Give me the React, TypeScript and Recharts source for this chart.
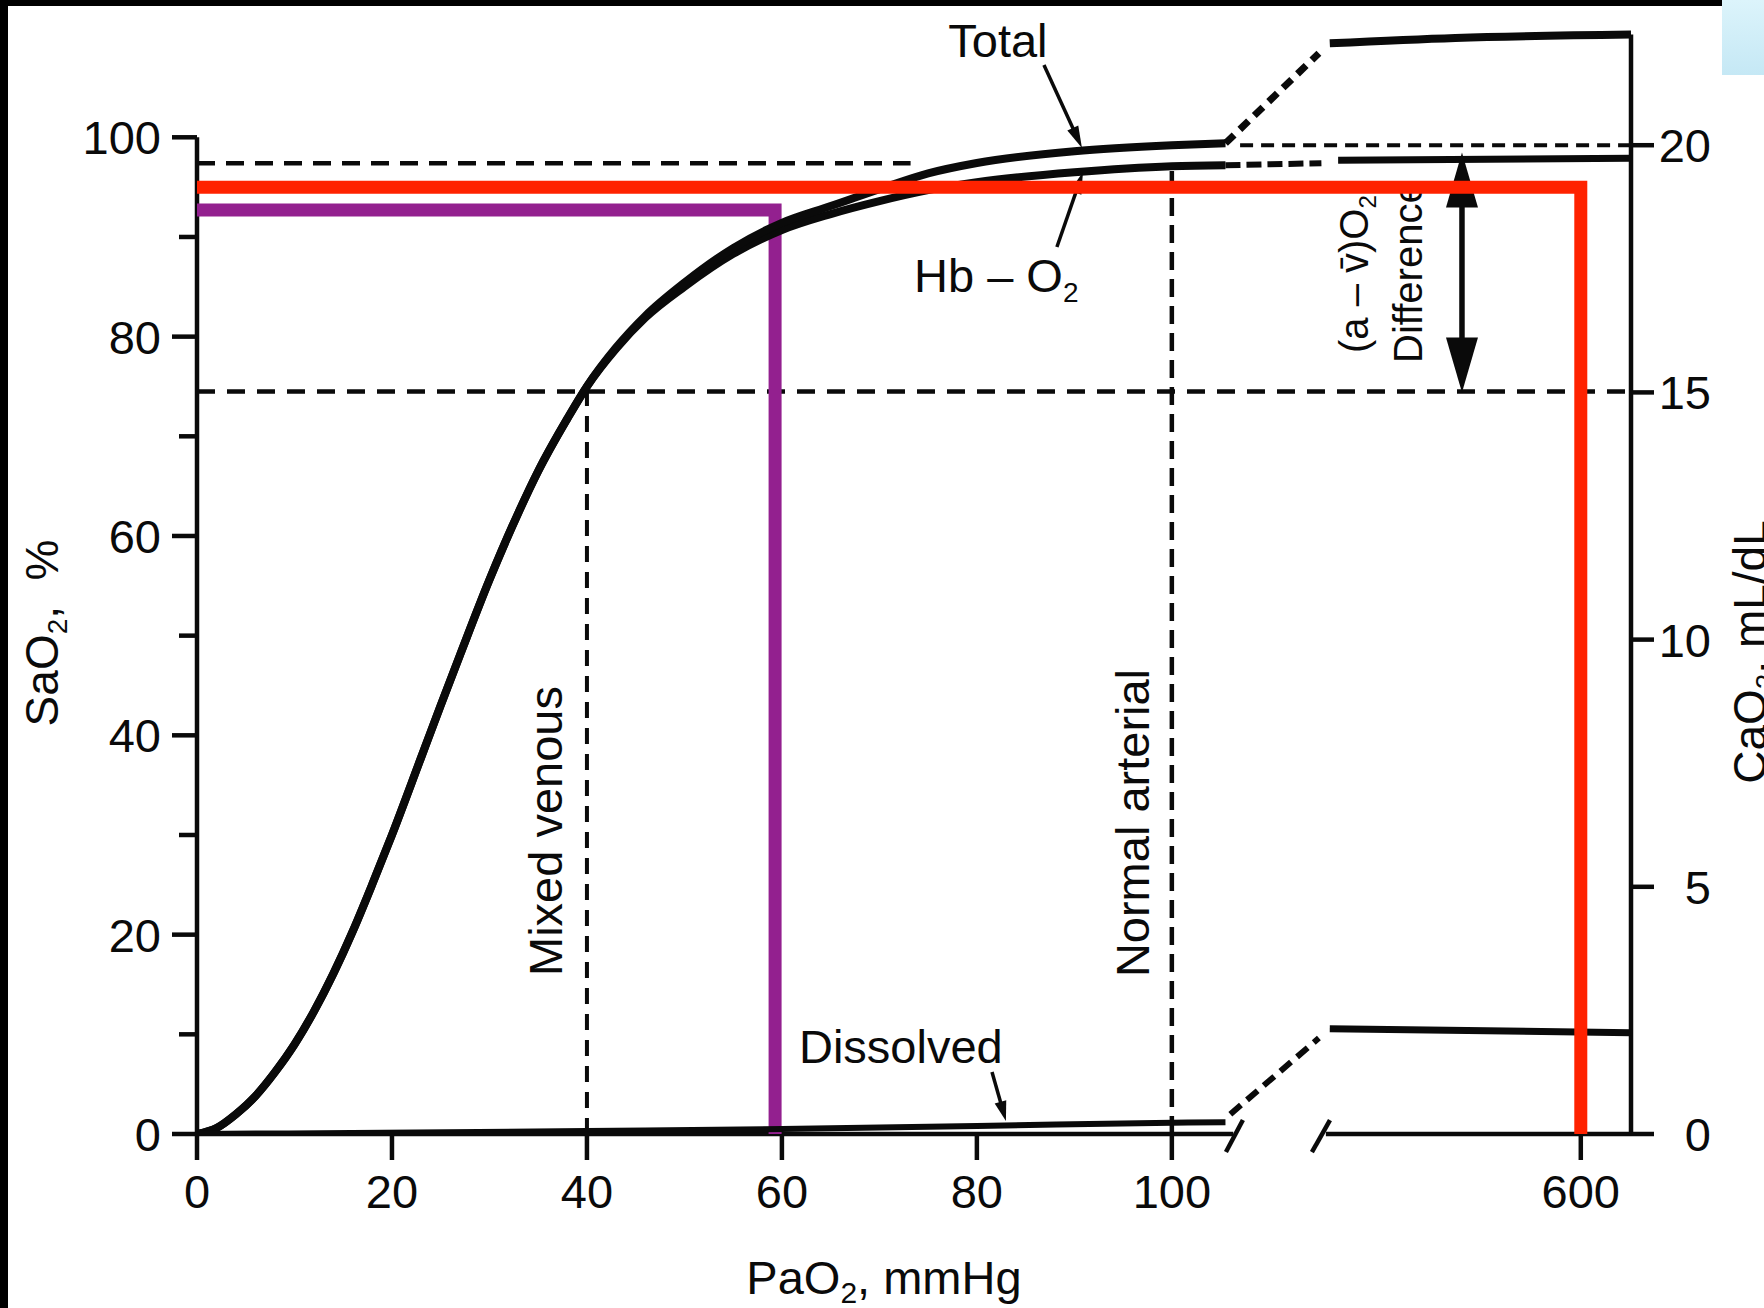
import React from 'react';
import { ComposedChart, Line, XAxis, YAxis, ReferenceLine } from 'recharts';

// ---------------- values ----------------
// Hb–O2 dissociation curve, SaO2 (%) against PaO2 (mmHg)
const HB_PAO2 = [0, 2, 4, 6, 8, 10, 12, 14, 16, 18, 20, 23, 25, 27, 30, 33, 35, 38, 40, 43, 46, 50, 55, 60, 65, 70, 75, 80, 90, 100, 105.5];
const HB_SAT = [0, 0.6, 2.0, 3.8, 6.2, 9.0, 12.3, 16.1, 20.4, 25.1, 30.0, 37.8, 43.0, 48.1, 55.6, 62.4, 66.5, 71.8, 75.0, 78.8, 81.9, 85.0, 88.3, 90.7, 92.3, 93.6, 94.7, 95.5, 96.5, 97.1, 97.2];
// Total O2 content, CaO2 (mL/dL)
const TOTAL_PAO2 = [0, 2, 4, 6, 8, 10, 12, 14, 16, 18, 20, 23, 25, 27, 30, 33, 35, 38, 40, 43, 46, 50, 55, 60, 65, 70, 75, 80, 90, 100, 105.5];
const TOTAL_CAO2 = [0, 0.12, 0.4, 0.77, 1.25, 1.81, 2.48, 3.25, 4.11, 5.06, 6.05, 7.62, 8.67, 9.7, 11.21, 12.58, 13.41, 14.47, 15.12, 15.91, 16.55, 17.22, 17.92, 18.43, 18.77, 19.11, 19.43, 19.64, 19.88, 20.0, 20.04];
// Dissolved O2 (mL/dL)
const DISSOLVED_PAO2 = [0, 40, 60, 80, 100, 105.5];
const DISSOLVED_CAO2 = [0, 0.06, 0.1, 0.16, 0.23, 0.24];

// beyond the axis break (high PaO2)
const TOTAL_LINK_PAO2 = [105.5, 287];
const TOTAL_LINK_CAO2 = [20.04, 21.86];
const TOTAL_HIGH_PAO2 = [300, 450, 660];
const TOTAL_HIGH_CAO2 = [22.06, 22.17, 22.24];
const HB_LINK_PAO2 = [105.5, 290];
const HB_LINK_SAT = [97.2, 97.4];
const HB_HIGH_PAO2 = [310, 660];
const HB_HIGH_SAT = [97.7, 97.9];
const DISS_LINK_PAO2 = [106, 287];
const DISS_LINK_CAO2 = [0.4, 1.94];
const DISS_HIGH_PAO2 = [300, 660];
const DISS_HIGH_CAO2 = [2.13, 2.05];

// reference levels
const ARTERIAL_SAT = 97.4;
const ARTERIAL_SAT_END_PAO2 = 73.2;
const VENOUS_SAT = 74.5;
const VENOUS_PAO2 = 40;
const ARTERIAL_PAO2 = 100;
const ARTERIAL_CAO2 = 20;
const VENOUS_CAO2 = 15;
const AV_ARROW_PAO2 = 458;

// hand-drawn highlights
const RED_PAO2 = [0, 600, 600];
const RED_SAT = [95.0, 95.0, 0];
const PURPLE_PAO2 = [0, 59.3, 59.3];
const PURPLE_SAT = [92.7, 92.7, 0];

// ticks
const X_TICKS = [0, 20, 40, 60, 80, 100, 600];
const SAT_TICKS = [0, 10, 20, 30, 40, 50, 60, 70, 80, 90, 100];
const CA_TICKS = [0, 5, 10, 15, 20];

// ---------------- layout ----------------
const W = 1764;
const H = 1308;
const X_MAX = 147.1; // right axis position (axis units)
const POS_600 = 141.95; // where PaO2 = 600 sits after the break
const HIGH_SCALE = (X_MAX - POS_600) / 60;
const SAT_MAX = 112.17;
const CA_PER_SAT = 0.2016;
const CA_MAX = SAT_MAX * CA_PER_SAT;

const toPos = (p: number) => (p <= 110 ? p : POS_600 + (p - 600) * HIGH_SCALE);
const series = (ps: number[], vs: number[]) => ps.map((p, i) => ({ x: toPos(p), y: vs[i] }));
const X_TICK_POS = X_TICKS.map(toPos);

const INK = '#0a0a0a';
const FONT = "'Liberation Sans', Arial, Helvetica, sans-serif";
const TXT = { fontFamily: FONT, fontSize: 47, fill: INK };

const satTick = (props: any) => {
  const { x, y, payload } = props;
  const v = payload.value as number;
  const major = v % 20 === 0;
  return (
    <g>
      <line x1={x - (major ? 25 : 18)} x2={x} y1={y} y2={y} stroke={INK} strokeWidth={4.5} />
      {major && (
        <text x={x - 36} y={y + 17} textAnchor="end" {...TXT}>
          {v}
        </text>
      )}
    </g>
  );
};

const caTick = (props: any) => {
  const { x, y, payload } = props;
  return (
    <g>
      <line x1={x} x2={x + 23} y1={y} y2={y} stroke={INK} strokeWidth={4.5} />
      <text x={x + 80} y={y + 17} textAnchor="end" {...TXT}>
        {payload.value}
      </text>
    </g>
  );
};

const xTick = (props: any) => {
  const { x, y, payload } = props;
  const i = X_TICK_POS.findIndex((v) => Math.abs(v - payload.value) < 1e-6);
  return (
    <g>
      <line x1={x} x2={x} y1={y} y2={y + 26} stroke={INK} strokeWidth={4.5} />
      <text x={x} y={y + 74} textAnchor="middle" {...TXT}>
        {i >= 0 ? X_TICKS[i] : ''}
      </text>
    </g>
  );
};

type P = { x: number; y: number };

const seg = (key: string, a: P, b: P, axis: string, sw: number, dash?: string, z = 300) => (
  <ReferenceLine
    key={key}
    yAxisId={axis}
    segment={[a, b]}
    stroke={INK}
    strokeWidth={sw}
    strokeDasharray={dash}
    ifOverflow="visible"
    zIndex={z}
  />
);

const drawArrow = (x1: number, y1: number, x2: number, y2: number, head: number, half: number, sw: number, both: boolean) => {
  const dx = x2 - x1;
  const dy = y2 - y1;
  const L = Math.hypot(dx, dy) || 1;
  const ux = dx / L;
  const uy = dy / L;
  const nx = -uy;
  const ny = ux;
  const tri = (tx: number, ty: number, bx: number, by: number) =>
    `M${tx},${ty} L${bx + nx * half},${by + ny * half} L${bx - nx * half},${by - ny * half} Z`;
  const ex = x2 - ux * head;
  const ey = y2 - uy * head;
  const sx = both ? x1 + ux * head : x1;
  const sy = both ? y1 + uy * head : y1;
  return (
    <g>
      <line x1={sx - (both ? ux * 2 : 0)} y1={sy - (both ? uy * 2 : 0)} x2={ex + ux * 2} y2={ey + uy * 2} stroke={INK} strokeWidth={sw} />
      <path d={tri(x2, y2, ex, ey)} fill={INK} />
      {both && <path d={tri(x1, y1, sx, sy)} fill={INK} />}
    </g>
  );
};

const arrow = (key: string, a: P, b: P, axis: string, head: number, half: number, sw: number, both = false) => (
  <ReferenceLine
    key={key}
    yAxisId={axis}
    segment={[a, b]}
    ifOverflow="visible"
    zIndex={450}
    shape={(p: any) => drawArrow(p.x1, p.y1, p.x2, p.y2, head, half, sw, both)}
  />
);

const note = (key: string, at: P, axis: string, render: (x: number, y: number) => React.ReactNode) => (
  <ReferenceLine
    key={key}
    yAxisId={axis}
    segment={[at, at]}
    ifOverflow="visible"
    zIndex={450}
    shape={(p: any) => <g>{render(p.x1, p.y1)}</g>}
  />
);

export default function App() {
  const lineCommon = { dot: false, activeDot: false, isAnimationActive: false, legendType: 'none' as const };
  return (
    <div style={{ position: 'absolute', left: 0, top: 0, width: W, height: H, background: '#fff', overflow: 'hidden' }}>
      <ComposedChart width={W} height={H} margin={{ top: 16, right: 0, bottom: 0, left: 0 }}>
        <XAxis
          dataKey="x"
          type="number"
          domain={[0, X_MAX]}
          ticks={X_TICK_POS}
          interval={0}
          allowDataOverflow
          axisLine={false}
          tickLine={false}
          tickSize={0}
          tickMargin={0}
          tick={xTick}
          height={174}
        />
        <YAxis
          yAxisId="sat"
          type="number"
          domain={[0, SAT_MAX]}
          ticks={SAT_TICKS}
          interval={0}
          allowDataOverflow
          axisLine={false}
          tickLine={false}
          tickSize={0}
          tickMargin={0}
          tick={satTick}
          width={197}
        />
        <YAxis
          yAxisId="ca"
          orientation="right"
          type="number"
          domain={[0, CA_MAX]}
          ticks={CA_TICKS}
          interval={0}
          allowDataOverflow
          axisLine={false}
          tickLine={false}
          tickSize={0}
          tickMargin={0}
          tick={caTick}
          width={133}
        />

        {/* dashed reference lines */}
        {seg('artSat', { x: 0, y: ARTERIAL_SAT }, { x: toPos(ARTERIAL_SAT_END_PAO2), y: ARTERIAL_SAT }, 'sat', 4.5, '18 11')}
        {seg('venSat', { x: 0, y: VENOUS_SAT }, { x: X_MAX, y: VENOUS_SAT }, 'sat', 4.5, '18 12')}
        {seg('venV', { x: toPos(VENOUS_PAO2), y: 0 }, { x: toPos(VENOUS_PAO2), y: VENOUS_SAT }, 'sat', 4, '16 10')}
        {seg('artV', { x: toPos(ARTERIAL_PAO2), y: 0 }, { x: toPos(ARTERIAL_PAO2), y: 97.1 }, 'sat', 4.5, '18 9')}
        {seg('artCa', { x: 107, y: ARTERIAL_CAO2 }, { x: X_MAX, y: ARTERIAL_CAO2 }, 'ca', 4, '13 8')}

        {/* axis lines with break */}
        {seg('yL', { x: 0, y: 0 }, { x: 0, y: 100 }, 'sat', 4.5)}
        {seg('yR', { x: X_MAX, y: 0 }, { x: X_MAX, y: 22.24 }, 'ca', 4.5)}
        {seg('xA', { x: 0, y: 0 }, { x: 106.3, y: 0 }, 'sat', 4.5)}
        {seg('xB', { x: 115.8, y: 0 }, { x: X_MAX, y: 0 }, 'sat', 4.5)}
        {seg('brk1', { x: 105.55, y: -1.81 }, { x: 107.29, y: 1.4 }, 'sat', 4.5)}
        {seg('brk2', { x: 114.37, y: -1.81 }, { x: 116.22, y: 1.4 }, 'sat', 4.5)}

        {/* purple highlight */}
        <Line
          {...lineCommon}
          name="purple"
          data={series(PURPLE_PAO2, PURPLE_SAT)}
          dataKey="y"
          yAxisId="sat"
          type="linear"
          stroke="#93208f"
          strokeWidth={13}
          strokeLinejoin="miter"
          strokeLinecap="butt"
          zIndex={350}
        />

        {/* curves */}
        <Line {...lineCommon} name="Hb–O2" data={series(HB_PAO2, HB_SAT)} dataKey="y" yAxisId="sat" type="monotone" stroke={INK} strokeWidth={8} />
        <Line {...lineCommon} name="Total" data={series(TOTAL_PAO2, TOTAL_CAO2)} dataKey="y" yAxisId="ca" type="monotone" stroke={INK} strokeWidth={8} />
        <Line {...lineCommon} name="Dissolved" data={series(DISSOLVED_PAO2, DISSOLVED_CAO2)} dataKey="y" yAxisId="ca" type="monotone" stroke={INK} strokeWidth={6} />
        <Line {...lineCommon} name="Total link" data={series(TOTAL_LINK_PAO2, TOTAL_LINK_CAO2)} dataKey="y" yAxisId="ca" type="linear" stroke={INK} strokeWidth={7} strokeDasharray="12 8" />
        <Line {...lineCommon} name="Total high" data={series(TOTAL_HIGH_PAO2, TOTAL_HIGH_CAO2)} dataKey="y" yAxisId="ca" type="monotone" stroke={INK} strokeWidth={8} />
        <Line {...lineCommon} name="Hb link" data={series(HB_LINK_PAO2, HB_LINK_SAT)} dataKey="y" yAxisId="sat" type="linear" stroke={INK} strokeWidth={6} strokeDasharray="15 6" />
        <Line {...lineCommon} name="Hb high" data={series(HB_HIGH_PAO2, HB_HIGH_SAT)} dataKey="y" yAxisId="sat" type="linear" stroke={INK} strokeWidth={7} />
        <Line {...lineCommon} name="Dissolved link" data={series(DISS_LINK_PAO2, DISS_LINK_CAO2)} dataKey="y" yAxisId="ca" type="linear" stroke={INK} strokeWidth={6} strokeDasharray="14 8" />
        <Line {...lineCommon} name="Dissolved high" data={series(DISS_HIGH_PAO2, DISS_HIGH_CAO2)} dataKey="y" yAxisId="ca" type="linear" stroke={INK} strokeWidth={7} />

        {/* arrows */}
        {arrow('aTotal', { x: 86.88, y: 107.25 }, { x: 90.78, y: 98.93 }, 'sat', 22, 6, 3.5)}
        {arrow('aHb', { x: 88.21, y: 88.99 }, { x: 90.88, y: 96.52 }, 'sat', 22, 6, 3.5)}
        {arrow('aDiss', { x: 81.55, y: 6.22 }, { x: 82.98, y: 1.3 }, 'sat', 20, 6, 3.5)}
        {arrow('aAV', { x: toPos(AV_ARROW_PAO2), y: 19.85 }, { x: toPos(AV_ARROW_PAO2), y: VENOUS_CAO2 }, 'ca', 55, 16, 5.5, true)}

        {/* text annotations */}
        {note('tTotal', { x: 82.16, y: 108.06 }, 'sat', (x, y) => (
          <text x={x} y={y} textAnchor="middle" {...TXT}>Total</text>
        ))}
        {note('tHb', { x: 73.55, y: 84.48 }, 'sat', (x, y) => (
          <text x={x} y={y} textAnchor="start" {...TXT}>
            Hb – O<tspan fontSize={28} dy={10}>2</tspan>
          </text>
        ))}
        {note('tDiss', { x: 61.75, y: 7.12 }, 'sat', (x, y) => (
          <text x={x} y={y} textAnchor="start" {...TXT}>Dissolved</text>
        ))}
        {note('tMixed', { x: 37.44, y: 30.4 }, 'sat', (x, y) => (
          <text x={x} y={y} textAnchor="middle" transform={`rotate(-90 ${x} ${y})`} {...TXT}>Mixed venous</text>
        ))}
        {note('tNormal', { x: 97.65, y: 31.2 }, 'sat', (x, y) => (
          <text x={x} y={y} textAnchor="middle" transform={`rotate(-90 ${x} ${y})`} {...TXT}>Normal arterial</text>
        ))}
        {note('tAV', { x: 120.11, y: 78.36 }, 'sat', (x, y) => (
          <text x={x} y={y} textAnchor="start" transform={`rotate(-90 ${x} ${y})`} {...TXT} fontSize={40}>
            (a – v{'\u0304'})O<tspan fontSize={24} dy={8}>2</tspan>
          </text>
        ))}
        {note('tDiff', { x: 125.65, y: 77.36 }, 'sat', (x, y) => (
          <text x={x} y={y} textAnchor="start" transform={`rotate(-90 ${x} ${y})`} {...TXT} fontSize={40}>Difference</text>
        ))}
        {note('tSat', { x: -14.26, y: 50.27 }, 'sat', (x, y) => (
          <text x={x} y={y} textAnchor="middle" transform={`rotate(-90 ${x} ${y})`} {...TXT} fontSize={46}>
            SaO<tspan fontSize={28} dy={9}>2</tspan>
            <tspan dy={-9}>,{'\u00a0\u00a0'}%</tspan>
          </text>
        ))}
        {note('tPa', { x: 70.47, y: -16.1 }, 'sat', (x, y) => (
          <text x={x} y={y} textAnchor="middle" {...TXT}>
            PaO<tspan fontSize={30} dy={9}>2</tspan>
            <tspan dy={-9}>, mmHg</tspan>
          </text>
        ))}
        {note('tCa', { x: 160.94, y: 48.36 }, 'sat', (x, y) => (
          <text x={x} y={y} textAnchor="middle" transform={`rotate(-90 ${x} ${y})`} {...TXT} fontSize={46}>
            CaO<tspan fontSize={28} dy={9}>2</tspan>
            <tspan dy={-9}>, mL/dL</tspan>
          </text>
        ))}

        {/* red highlight on top */}
        <Line
          {...lineCommon}
          name="red"
          data={series(RED_PAO2, RED_SAT)}
          dataKey="y"
          yAxisId="sat"
          type="linear"
          stroke="#ff2200"
          strokeWidth={13}
          strokeLinejoin="miter"
          strokeLinecap="butt"
          zIndex={2500}
        />
      </ComposedChart>
      <div style={{ position: 'absolute', left: 0, top: 0, width: 1722, height: 6, background: '#000' }} />
      <div style={{ position: 'absolute', left: 0, top: 0, width: 8, height: H, background: '#000' }} />
      <div style={{ position: 'absolute', left: 1722, top: 0, width: 42, height: 75, background: 'linear-gradient(180deg, #dcf4fb, #c5e8f5)' }} />
    </div>
  );
}
